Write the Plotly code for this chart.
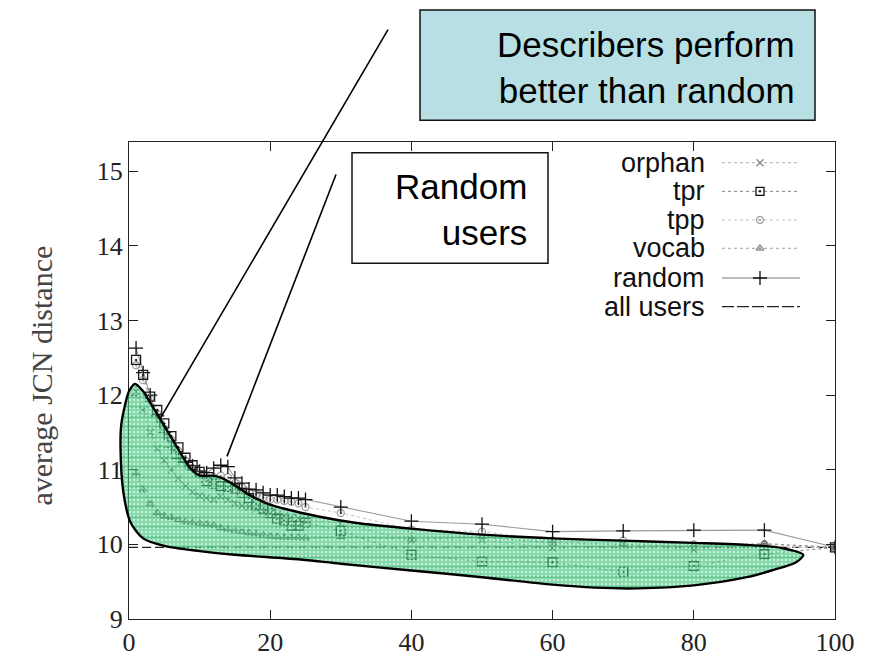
import plotly.graph_objects as go

# ---------------- data ----------------
x_vals = list(range(1, 26)) + [30, 40, 50, 60, 70, 80, 90, 100]

orphan = [12.05, 11.80, 11.50, 11.28, 11.12, 11.00, 10.88, 10.78, 10.70, 10.65,
          10.62, 10.60, 10.64, 10.60, 10.55, 10.52, 10.50, 10.47, 10.44, 10.42,
          10.40, 10.38, 10.36, 10.35, 10.33,
          10.28, 10.05, 10.06, 9.95, 9.98, 9.93, 9.96, 9.96]
tpr = [12.47, 12.27, 11.98, 11.80, 11.62, 11.45, 11.30, 11.16, 11.06, 10.97,
       10.85, 10.81, 10.78, 10.77, 10.75, 10.69, 10.62, 10.54, 10.48, 10.42,
       10.34, 10.32, 10.25, 10.25, 10.29,
       10.18, 9.86, 9.77, 9.76, 9.63, 9.71, 9.87, 9.96]
tpp = [12.40, 12.20, 11.95, 11.75, 11.55, 11.40, 11.25, 11.12, 11.02, 10.95,
       10.90, 10.90, 10.92, 10.90, 10.82, 10.76, 10.70, 10.67, 10.63, 10.60,
       10.60, 10.58, 10.57, 10.55, 10.50,
       10.42, 10.20, 10.17, 10.05, 10.05, 10.00, 10.00, 9.96]
vocab = [10.95, 10.73, 10.55, 10.42, 10.38, 10.36, 10.33, 10.30, 10.29, 10.28,
         10.27, 10.25, 10.22, 10.20, 10.18, 10.17, 10.15, 10.14, 10.12, 10.11,
         10.10, 10.09, 10.09, 10.09, 10.08,
         10.10, 10.07, 10.10, 10.02, 10.00, 9.97, 10.01, 9.96]
random_users = [12.63, 12.30, 12.00, 11.72, 11.50, 11.30, 11.15, 11.10, 11.05, 10.98,
                10.96, 11.02, 11.06, 11.04, 10.89, 10.82, 10.74, 10.73, 10.69, 10.66,
                10.66, 10.64, 10.62, 10.62, 10.60,
                10.50, 10.31, 10.27, 10.17, 10.18, 10.19, 10.19, 9.96]
all_users_x = [0, 100]
all_users_y = [9.96, 9.96]

# highlighted region ("describers perform better than random"), data coords
blob_x = [0.85, 2.0, 3.0, 4.4, 5.8, 7.2, 8.6, 10.1, 11.9, 13.1, 14.8, 17.1, 19.5, 22.3,
          27, 32, 40, 50, 60, 70, 80, 88, 92.5, 95.5, 94.5, 91, 87.5, 80, 72, 66, 60,
          50, 40, 30, 24, 15, 10, 5, 2, 0.2, -0.8, -1.2, -1.1, -0.6, 0.0, 0.85]
blob_y = [12.15, 12.05, 11.90, 11.68, 11.46, 11.24, 11.03, 10.92, 10.92, 10.89, 10.80,
          10.66, 10.55, 10.47, 10.37, 10.29, 10.21, 10.13, 10.08, 10.05, 10.02, 9.99,
          9.95, 9.86, 9.76, 9.65, 9.56, 9.45, 9.41, 9.42, 9.46, 9.56, 9.65, 9.74, 9.80,
          9.86, 9.91, 9.98, 10.08, 10.30, 10.70, 11.28, 11.60, 11.85, 12.05, 12.15]

x_ticks = [0, 20, 40, 60, 80, 100]
y_ticks = [9, 10, 11, 12, 13, 14, 15]
legend_names = ["orphan", "tpr", "tpp", "vocab", "random", "all users"]

# ---------------- layout geometry ----------------
W_FIG, H_FIG = 873, 669
M_L, M_R, M_T, M_B = 100, 38, 142, 43
PLOT_LEFT = 129
X_RANGE = [0, 100]
Y_RANGE = [9, 15.39]
paper_w = W_FIG - M_L - M_R
paper_h = H_FIG - M_T - M_B
x_dom0 = (PLOT_LEFT - M_L) / paper_w
plot_w = W_FIG - M_R - PLOT_LEFT
px_per_unit = plot_w / (X_RANGE[1] - X_RANGE[0])
x2_lo = X_RANGE[0] - (PLOT_LEFT - M_L) / px_per_unit


def pxp(px, py):
    return (px - M_L) / paper_w, (H_FIG - M_B - py) / paper_h


def pfr(px, py):
    return (px - PLOT_LEFT) / plot_w, (H_FIG - M_B - py) / paper_h


SERIF = "Liberation Serif"
SANS = "Liberation Sans"

fig = go.Figure()

# all users dashed reference line
fig.add_trace(go.Scatter(x=all_users_x, y=all_users_y, mode="lines",
                         line=dict(color="#222", width=1.3, dash="9px,4px"),
                         showlegend=False, hoverinfo="skip"))

styles = [
    (orphan, "x-thin-open", "#6a6a6a", "#b0b0b0", 7, "dot"),
    (tpp, "circle-open-dot", "#a0a0a0", "#c8c8c8", 7, "dot"),
    (vocab, "triangle-up-open-dot", "#666", "#8a8a8a", 7, "dot"),
    (random_users, "cross-thin-open", "#111", "#9a9a9a", 10, "solid"),
    (tpr, "square-open-dot", "#1a1a1a", "#8a8a8a", 9, "dot"),
]
for ys, sym, mc, lc, ms, dash in styles:
    fig.add_trace(go.Scatter(
        x=x_vals, y=ys, mode="lines+markers",
        line=dict(color=lc, width=1.1, dash=dash),
        marker=dict(symbol=sym, size=ms, color=mc, line=dict(color=mc, width=1.3)),
        showlegend=False, hoverinfo="skip"))

# highlighted region on a wider (invisible) x axis so it may overhang the y axis
fig.add_trace(go.Scatter(
    x=blob_x, y=blob_y, xaxis="x2", yaxis="y", mode="lines",
    line=dict(color="rgba(0,0,0,0)", width=0, shape="spline", smoothing=0.8),
    fill="toself", fillcolor="rgba(60,195,120,0.62)",
    fillpattern=dict(shape="-", bgcolor="rgba(60,195,120,0.62)", fgcolor="#2fae66",
                     fgopacity=0.7, size=10, solidity=0.12),
    showlegend=False, hoverinfo="skip"))
fig.add_trace(go.Scatter(
    x=blob_x, y=blob_y, xaxis="x2", yaxis="y", mode="lines",
    line=dict(color="#000", width=2.4, shape="spline", smoothing=0.8),
    fill="toself", fillcolor="rgba(0,0,0,0)",
    fillpattern=dict(shape=".", bgcolor="rgba(0,0,0,0)", fgcolor="#ffffff",
                     fgopacity=0.8, size=4, solidity=0.16),
    showlegend=False, hoverinfo="skip"))

# custom legend (text left of sample, as in the original)
leg_rows_py = [163, 192, 221, 250, 280, 309]
leg_styles = [
    ("x-thin-open", "#8a8a8a", "#bdbdbd", "dot", 7),
    ("square-open-dot", "#111", "#9a9a9a", "dot", 8),
    ("circle-open-dot", "#9a9a9a", "#cfcfcf", "dot", 7),
    ("triangle-up-open-dot", "#8c8c8c", "#b5b5b5", "dot", 7),
    ("cross-thin-open", "#111", "#7a7a7a", "solid", 10),
    (None, "#222", "#222", "12px,3px", 0),
]
annotations = []
for name, py, (sym, mc, lc, dash, ms) in zip(legend_names, leg_rows_py, leg_styles):
    x0, yy = pfr(722, py)
    x1, _ = pfr(800, py)
    xm, _ = pfr(760, py)
    fig.add_trace(go.Scatter(x=[x0, x1], y=[yy, yy], xaxis="x3", yaxis="y3", mode="lines",
                             line=dict(color=lc, width=1.2, dash=dash),
                             showlegend=False, hoverinfo="skip"))
    if sym:
        fig.add_trace(go.Scatter(x=[xm], y=[yy], xaxis="x3", yaxis="y3", mode="markers",
                                 marker=dict(symbol=sym, size=ms, color=mc,
                                             line=dict(color=mc, width=1.3)),
                                 showlegend=False, hoverinfo="skip"))
    tx, ty = pxp(707, py)
    annotations.append(dict(x=tx, y=ty, xref="paper", yref="paper", text=name,
                            showarrow=False, xanchor="right", yanchor="middle",
                            font=dict(family=SANS, size=27, color="#111")))

# y-axis title
tx, ty = pxp(42, 379)
annotations.append(dict(x=tx, y=ty, xref="paper", yref="paper", text="average JCN distance",
                        textangle=-90, showarrow=False, xanchor="center", yanchor="middle",
                        font=dict(family=SERIF, size=30, color="#444")))

# callout texts
tx, ty = pxp(797, 66)
annotations.append(dict(x=tx, y=ty, xref="paper", yref="paper",
                        text="Describers perform<br>better than random",
                        showarrow=False, xanchor="right", yanchor="middle", align="right",
                        font=dict(family=SANS, size=35, color="#000")))
tx, ty = pxp(529, 210)
annotations.append(dict(x=tx, y=ty, xref="paper", yref="paper",
                        text="Random<br>users",
                        showarrow=False, xanchor="right", yanchor="middle", align="right",
                        font=dict(family=SANS, size=35, color="#000")))

shapes = []
# teal box
a0 = pxp(420, 120); a1 = pxp(815, 8)
shapes.append(dict(type="rect", xref="paper", yref="paper", x0=a0[0], y0=a0[1], x1=a1[0], y1=a1[1],
                   fillcolor="#b8e0e4", line=dict(color="#111", width=1.5), layer="above"))
# random users box
b0 = pxp(352, 265); b1 = pxp(548, 153)
shapes.append(dict(type="rect", xref="paper", yref="paper", x0=b0[0], y0=b0[1], x1=b1[0], y1=b1[1],
                   fillcolor="#ffffff", line=dict(color="#111", width=1.5), layer="below"))
# callout lines
for (p0, p1) in [((388, 28), (160, 423)), ((336, 175), (227, 461))]:
    c0 = pxp(*p0); c1 = pxp(*p1)
    shapes.append(dict(type="line", xref="paper", yref="paper", x0=c0[0], y0=c0[1],
                       x1=c1[0], y1=c1[1], line=dict(color="#000", width=1.6), layer="above"))

axis_font = dict(family=SERIF, size=26, color="#222")
fig.update_layout(
    width=W_FIG, height=H_FIG,
    margin=dict(l=M_L, r=M_R, t=M_T, b=M_B, pad=0),
    paper_bgcolor="#ffffff", plot_bgcolor="rgba(0,0,0,0)",
    showlegend=False,
    xaxis=dict(domain=[x_dom0, 1], range=X_RANGE, tickvals=x_ticks, ticks="inside",
               ticklen=9, tickcolor="#222", showline=True, linecolor="#222", linewidth=1.3,
               mirror="ticks", showgrid=False, zeroline=False, tickfont=axis_font,
               anchor="y"),
    yaxis=dict(domain=[0, 1], range=Y_RANGE, tickvals=y_ticks, ticks="inside",
               ticklen=9, tickcolor="#222", showline=True, linecolor="#222", linewidth=1.3,
               mirror="ticks", showgrid=False, zeroline=False, tickfont=axis_font,
               anchor="x"),
    xaxis2=dict(domain=[0, 1], range=[x2_lo, X_RANGE[1]], visible=False, anchor="y"),
    xaxis3=dict(range=[0, 1], visible=False, overlaying="x", anchor="y3"),
    yaxis3=dict(range=[0, 1], visible=False, overlaying="y", anchor="x3"),
    annotations=annotations,
    shapes=shapes,
)

fig.write_html("out.html")
